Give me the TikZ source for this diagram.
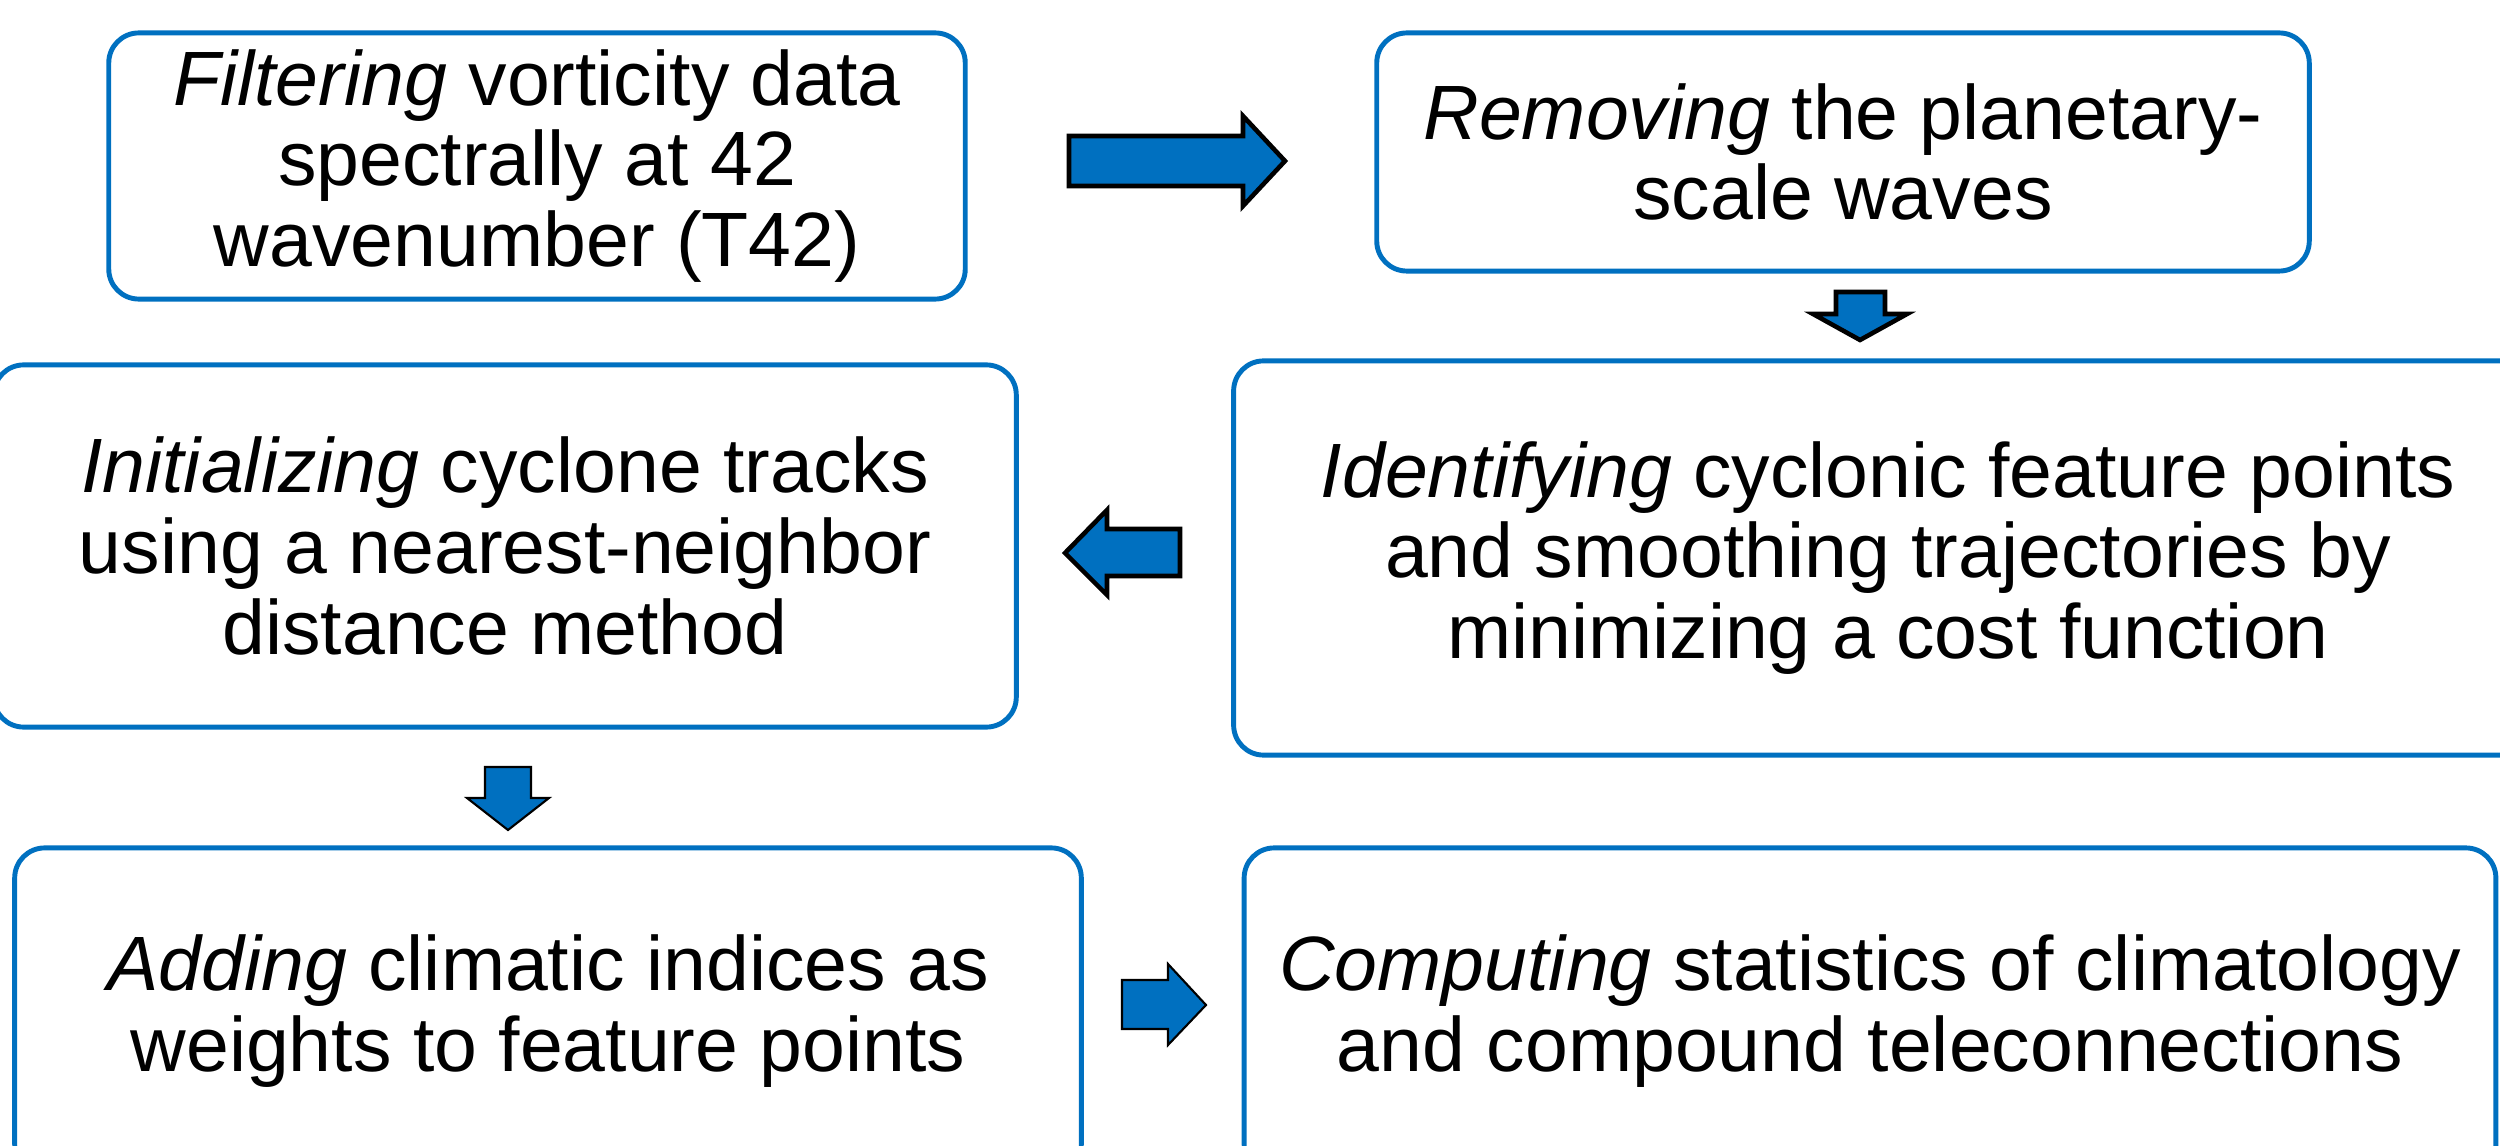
\documentclass[tikz,border=0pt]{standalone}
\usepackage{fontspec}
\setmainfont{Liberation Sans}
\definecolor{boxblue}{HTML}{0070C0}
\tikzset{
  stepbox/.style={draw=boxblue, line width=1.4pt, rounded corners=0.3cm, fill=white,
    align=center, inner sep=0pt, font=\fontsize{21.9pt}{22.9pt}\selectfont},
  blockarrow/.style={fill=boxblue, draw=black, line width=1.3pt, line join=miter},
  thinarrow/.style={blockarrow, line width=0.6pt}
}
\begin{document}
\begin{tikzpicture}[x=0.01cm,y=-0.01cm]
\useasboundingbox (0,0) rectangle (2500,1146);
\clip (0,0) rectangle (2500,1146);

\node[stepbox, minimum width=8.56cm, minimum height=2.66cm] (filter) at (537,166)
  {\textit{Filtering} vorticity data\\spectrally at 42\\wavenumber (T42)};
\node[stepbox, minimum width=9.32cm, minimum height=2.38cm] (remove) at (1843,152)
  {\textit{Removing} the planetary-\\scale waves};
\node[stepbox, minimum width=10.22cm, minimum height=3.62cm] (init) at (505,546)
  {\textit{Initializing} cyclone tracks\\using a nearest-neighbor\\distance method};
\node[stepbox, minimum width=13.08cm, minimum height=3.94cm] (ident) at (1888,558)
  {\textit{Identifying} cyclonic feature points\\and smoothing trajectories by\\minimizing a cost function};
\node[stepbox, minimum width=10.66cm, minimum height=3.26cm] (add) at (548,1011)
  {\textit{Adding} climatic indices as\\weights to feature points};
\node[stepbox, minimum width=12.51cm, minimum height=3.26cm] (comp) at (1870,1011)
  {\textit{Computing} statistics of climatology\\and compound teleconnections};

% block arrows
\draw[blockarrow] (1069,136) -- (1243,136) -- (1243,116) -- (1285,161) -- (1243,206) -- (1243,186) -- (1069,186) -- cycle;
\draw[blockarrow] (1836,292) -- (1885,292) -- (1885,314) -- (1907,314) -- (1860,340) -- (1813,314) -- (1836,314) -- cycle;
\draw[blockarrow] (1065,553) -- (1107,510) -- (1107,529) -- (1180,529) -- (1180,576) -- (1107,576) -- (1107,595) -- cycle;
\draw[thinarrow] (485,767) -- (531,767) -- (531,798) -- (549,798) -- (508,830) -- (467,798) -- (485,798) -- cycle;
\draw[thinarrow] (1122,980) -- (1168,980) -- (1168,964) -- (1206,1005) -- (1168,1045) -- (1168,1029) -- (1122,1029) -- cycle;
\end{tikzpicture}
\end{document}
